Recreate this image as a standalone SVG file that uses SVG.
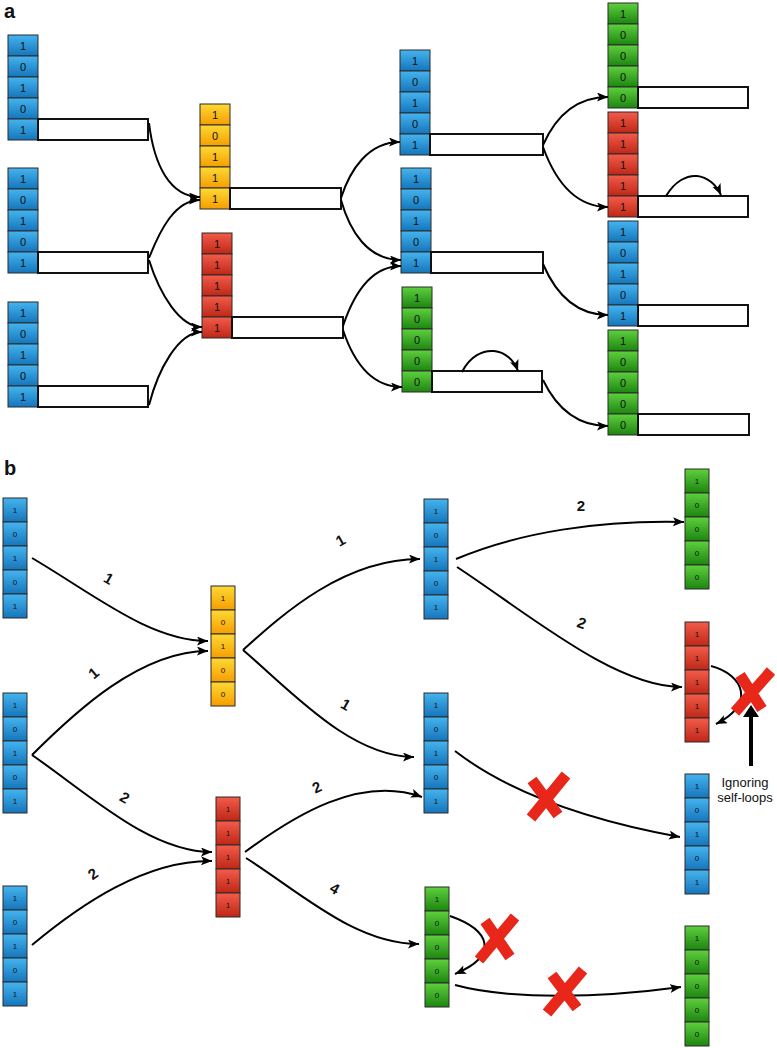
<svg xmlns="http://www.w3.org/2000/svg" xmlns:xlink="http://www.w3.org/1999/xlink" width="777" height="1048" viewBox="0 0 777 1048">
<style>
.c{stroke:#2b2b2b;stroke-width:1}
.ta{font-family:"Liberation Sans",Arial,sans-serif;font-size:11px;text-anchor:middle;fill:#111}
.tb{font-family:"Liberation Sans",Arial,sans-serif;font-size:8px;text-anchor:middle;fill:#111}
.bar{fill:#fff;stroke:#111;stroke-width:2}
.e{fill:none;stroke:#000;stroke-width:2;marker-end:url(#arr)}
.lbl{font-family:"Liberation Sans",Arial,sans-serif;font-size:15px;font-weight:bold;text-anchor:middle;fill:#111}
.x{stroke:#e8261a;stroke-width:11;stroke-linecap:butt;fill:none}
.hd{font-family:"Liberation Sans",Arial,sans-serif;font-size:20px;font-weight:bold;fill:#111}
.note{font-family:"Liberation Sans",Arial,sans-serif;font-size:13px;text-anchor:middle;fill:#111}
</style>
<defs>
<linearGradient id="gB" x1="0" y1="0" x2="0" y2="1"><stop offset="0" stop-color="#45b4ef"/><stop offset="1" stop-color="#1575bb"/></linearGradient>
<linearGradient id="gY" x1="0" y1="0" x2="0" y2="1"><stop offset="0" stop-color="#fcd935"/><stop offset="1" stop-color="#f69e00"/></linearGradient>
<linearGradient id="gR" x1="0" y1="0" x2="0" y2="1"><stop offset="0" stop-color="#f25c4a"/><stop offset="1" stop-color="#bf2616"/></linearGradient>
<linearGradient id="gG" x1="0" y1="0" x2="0" y2="1"><stop offset="0" stop-color="#5fd03e"/><stop offset="1" stop-color="#1c8510"/></linearGradient>
<marker id="arr" markerUnits="userSpaceOnUse" markerWidth="12" markerHeight="10" refX="11" refY="4.5" orient="auto"><path d="M0,0 L11,4.5 L0,9 L2.5,4.5 z" fill="#000"/></marker>
<g id="saB" class="c" fill="url(#gB)"><rect x="0" y="0" width="30" height="21"/><rect x="0" y="21" width="30" height="21"/><rect x="0" y="42" width="30" height="21"/><rect x="0" y="63" width="30" height="21"/><rect x="0" y="84" width="30" height="21"/></g>
<g id="saY" class="c" fill="url(#gY)"><rect x="0" y="0" width="30" height="21"/><rect x="0" y="21" width="30" height="21"/><rect x="0" y="42" width="30" height="21"/><rect x="0" y="63" width="30" height="21"/><rect x="0" y="84" width="30" height="21"/></g>
<g id="saR" class="c" fill="url(#gR)"><rect x="0" y="0" width="30" height="21"/><rect x="0" y="21" width="30" height="21"/><rect x="0" y="42" width="30" height="21"/><rect x="0" y="63" width="30" height="21"/><rect x="0" y="84" width="30" height="21"/></g>
<g id="saG" class="c" fill="url(#gG)"><rect x="0" y="0" width="30" height="21"/><rect x="0" y="21" width="30" height="21"/><rect x="0" y="42" width="30" height="21"/><rect x="0" y="63" width="30" height="21"/><rect x="0" y="84" width="30" height="21"/></g>
<g id="sbB" class="c" fill="url(#gB)"><rect x="0" y="0" width="24" height="24"/><rect x="0" y="24" width="24" height="24"/><rect x="0" y="48" width="24" height="24"/><rect x="0" y="72" width="24" height="24"/><rect x="0" y="96" width="24" height="24"/></g>
<g id="sbY" class="c" fill="url(#gY)"><rect x="0" y="0" width="24" height="24"/><rect x="0" y="24" width="24" height="24"/><rect x="0" y="48" width="24" height="24"/><rect x="0" y="72" width="24" height="24"/><rect x="0" y="96" width="24" height="24"/></g>
<g id="sbR" class="c" fill="url(#gR)"><rect x="0" y="0" width="24" height="24"/><rect x="0" y="24" width="24" height="24"/><rect x="0" y="48" width="24" height="24"/><rect x="0" y="72" width="24" height="24"/><rect x="0" y="96" width="24" height="24"/></g>
<g id="sbG" class="c" fill="url(#gG)"><rect x="0" y="0" width="24" height="24"/><rect x="0" y="24" width="24" height="24"/><rect x="0" y="48" width="24" height="24"/><rect x="0" y="72" width="24" height="24"/><rect x="0" y="96" width="24" height="24"/></g>
</defs>
<rect width="777" height="1048" fill="#fff"/>
<text class="hd" x="4" y="18">a</text>
<text class="hd" x="4" y="475">b</text>

<!-- Part a nodes -->
<g id="a-n1" transform="translate(8,35)"><use xlink:href="#saB"/><text class="ta" x="15" y="14.5">1</text><text class="ta" x="15" y="35.5">0</text><text class="ta" x="15" y="56.5">1</text><text class="ta" x="15" y="77.5">0</text><text class="ta" x="15" y="98.5">1</text><rect class="bar" x="30" y="84" width="110" height="21"/></g>
<g id="a-n2" transform="translate(8,168)"><use xlink:href="#saB"/><text class="ta" x="15" y="14.5">1</text><text class="ta" x="15" y="35.5">0</text><text class="ta" x="15" y="56.5">1</text><text class="ta" x="15" y="77.5">0</text><text class="ta" x="15" y="98.5">1</text><rect class="bar" x="30" y="84" width="110" height="21"/></g>
<g id="a-n3" transform="translate(8,302)"><use xlink:href="#saB"/><text class="ta" x="15" y="14.5">1</text><text class="ta" x="15" y="35.5">0</text><text class="ta" x="15" y="56.5">1</text><text class="ta" x="15" y="77.5">0</text><text class="ta" x="15" y="98.5">1</text><rect class="bar" x="30" y="84" width="110" height="21"/></g>
<g id="a-n4" transform="translate(200,104)"><use xlink:href="#saY"/><text class="ta" x="15" y="14.5">1</text><text class="ta" x="15" y="35.5">0</text><text class="ta" x="15" y="56.5">1</text><text class="ta" x="15" y="77.5">1</text><text class="ta" x="15" y="98.5">1</text><rect class="bar" x="30" y="84" width="111" height="21"/></g>
<g id="a-n5" transform="translate(202,233)"><use xlink:href="#saR"/><text class="ta" x="15" y="14.5">1</text><text class="ta" x="15" y="35.5">1</text><text class="ta" x="15" y="56.5">1</text><text class="ta" x="15" y="77.5">1</text><text class="ta" x="15" y="98.5">1</text><rect class="bar" x="30" y="84" width="111" height="21"/></g>
<g id="a-n6" transform="translate(400,50)"><use xlink:href="#saB"/><text class="ta" x="15" y="14.5">1</text><text class="ta" x="15" y="35.5">0</text><text class="ta" x="15" y="56.5">1</text><text class="ta" x="15" y="77.5">0</text><text class="ta" x="15" y="98.5">1</text><rect class="bar" x="30" y="84" width="113" height="21"/></g>
<g id="a-n7" transform="translate(401,168)"><use xlink:href="#saB"/><text class="ta" x="15" y="14.5">1</text><text class="ta" x="15" y="35.5">0</text><text class="ta" x="15" y="56.5">1</text><text class="ta" x="15" y="77.5">0</text><text class="ta" x="15" y="98.5">1</text><rect class="bar" x="30" y="84" width="112" height="21"/></g>
<g id="a-n8" transform="translate(402,287)"><use xlink:href="#saG"/><text class="ta" x="15" y="14.5">1</text><text class="ta" x="15" y="35.5">0</text><text class="ta" x="15" y="56.5">0</text><text class="ta" x="15" y="77.5">0</text><text class="ta" x="15" y="98.5">0</text><rect class="bar" x="30" y="84" width="110" height="21"/></g>
<g id="a-n9" transform="translate(608,3)"><use xlink:href="#saG"/><text class="ta" x="15" y="14.5">1</text><text class="ta" x="15" y="35.5">0</text><text class="ta" x="15" y="56.5">0</text><text class="ta" x="15" y="77.5">0</text><text class="ta" x="15" y="98.5">0</text><rect class="bar" x="30" y="84" width="110" height="21"/></g>
<g id="a-n10" transform="translate(608,112)"><use xlink:href="#saR"/><text class="ta" x="15" y="14.5">1</text><text class="ta" x="15" y="35.5">1</text><text class="ta" x="15" y="56.5">1</text><text class="ta" x="15" y="77.5">1</text><text class="ta" x="15" y="98.5">1</text><rect class="bar" x="30" y="84" width="110" height="21"/></g>
<g id="a-n11" transform="translate(608,221)"><use xlink:href="#saB"/><text class="ta" x="15" y="14.5">1</text><text class="ta" x="15" y="35.5">0</text><text class="ta" x="15" y="56.5">1</text><text class="ta" x="15" y="77.5">0</text><text class="ta" x="15" y="98.5">1</text><rect class="bar" x="30" y="84" width="110" height="21"/></g>
<g id="a-n12" transform="translate(608,330)"><use xlink:href="#saG"/><text class="ta" x="15" y="14.5">1</text><text class="ta" x="15" y="35.5">0</text><text class="ta" x="15" y="56.5">0</text><text class="ta" x="15" y="77.5">0</text><text class="ta" x="15" y="98.5">0</text><rect class="bar" x="30" y="84" width="111" height="21"/></g>

<!-- Part b nodes -->
<g id="b-n1" transform="translate(3,498)"><use xlink:href="#sbB"/><text class="tb" x="12" y="15">1</text><text class="tb" x="12" y="39">0</text><text class="tb" x="12" y="63">1</text><text class="tb" x="12" y="87">0</text><text class="tb" x="12" y="111">1</text></g>
<g id="b-n2" transform="translate(3,693)"><use xlink:href="#sbB"/><text class="tb" x="12" y="15">1</text><text class="tb" x="12" y="39">0</text><text class="tb" x="12" y="63">1</text><text class="tb" x="12" y="87">0</text><text class="tb" x="12" y="111">1</text></g>
<g id="b-n3" transform="translate(3,886)"><use xlink:href="#sbB"/><text class="tb" x="12" y="15">1</text><text class="tb" x="12" y="39">0</text><text class="tb" x="12" y="63">1</text><text class="tb" x="12" y="87">0</text><text class="tb" x="12" y="111">1</text></g>
<g id="b-n4" transform="translate(211,586)"><use xlink:href="#sbY"/><text class="tb" x="12" y="15">1</text><text class="tb" x="12" y="39">0</text><text class="tb" x="12" y="63">1</text><text class="tb" x="12" y="87">0</text><text class="tb" x="12" y="111">0</text></g>
<g id="b-n5" transform="translate(216,797)"><use xlink:href="#sbR"/><text class="tb" x="12" y="15">1</text><text class="tb" x="12" y="39">1</text><text class="tb" x="12" y="63">1</text><text class="tb" x="12" y="87">1</text><text class="tb" x="12" y="111">1</text></g>
<g id="b-n6" transform="translate(424,499)"><use xlink:href="#sbB"/><text class="tb" x="12" y="15">1</text><text class="tb" x="12" y="39">0</text><text class="tb" x="12" y="63">1</text><text class="tb" x="12" y="87">0</text><text class="tb" x="12" y="111">1</text></g>
<g id="b-n7" transform="translate(424,693)"><use xlink:href="#sbB"/><text class="tb" x="12" y="15">1</text><text class="tb" x="12" y="39">0</text><text class="tb" x="12" y="63">1</text><text class="tb" x="12" y="87">0</text><text class="tb" x="12" y="111">1</text></g>
<g id="b-n8" transform="translate(425,887)"><use xlink:href="#sbG"/><text class="tb" x="12" y="15">1</text><text class="tb" x="12" y="39">0</text><text class="tb" x="12" y="63">0</text><text class="tb" x="12" y="87">0</text><text class="tb" x="12" y="111">0</text></g>
<g id="b-n9" transform="translate(685,469)"><use xlink:href="#sbG"/><text class="tb" x="12" y="15">1</text><text class="tb" x="12" y="39">0</text><text class="tb" x="12" y="63">0</text><text class="tb" x="12" y="87">0</text><text class="tb" x="12" y="111">0</text></g>
<g id="b-n10" transform="translate(685,622)"><use xlink:href="#sbR"/><text class="tb" x="12" y="15">1</text><text class="tb" x="12" y="39">1</text><text class="tb" x="12" y="63">1</text><text class="tb" x="12" y="87">1</text><text class="tb" x="12" y="111">1</text></g>
<g id="b-n11" transform="translate(685,774)"><use xlink:href="#sbB"/><text class="tb" x="12" y="15">1</text><text class="tb" x="12" y="39">0</text><text class="tb" x="12" y="63">1</text><text class="tb" x="12" y="87">0</text><text class="tb" x="12" y="111">1</text></g>
<g id="b-n12" transform="translate(685,926)"><use xlink:href="#sbG"/><text class="tb" x="12" y="15">1</text><text class="tb" x="12" y="39">0</text><text class="tb" x="12" y="63">0</text><text class="tb" x="12" y="87">0</text><text class="tb" x="12" y="111">0</text></g>

<g id="connectors">
<!-- part a -->
<path class="e" d="M149,123 C154,165 170,197 200,197"/>
<path class="e" d="M149,258 C160,230 175,200 200,200"/>
<path class="e" d="M149,260 C160,295 180,327 202,327"/>
<path class="e" d="M149,405 C158,370 178,332 202,332"/>
<path class="e" d="M341,198 C350,170 368,142 400,142"/>
<path class="e" d="M341,200 C350,232 368,260 401,260"/>
<path class="e" d="M343,326 C353,296 370,266 401,266"/>
<path class="e" d="M343,330 C353,360 370,387 402,387"/>
<path class="e" d="M543,145 C555,118 575,97 608,97"/>
<path class="e" d="M543,147 C555,180 575,207 608,207"/>
<path class="e" d="M543,264 C555,292 575,315 608,315"/>
<path class="e" d="M543,380 C555,405 575,426 608,426"/>
<path class="e" d="M462,372 C470,356 483,350 494,351 C505,352 514,360 518,371"/>
<path class="e" d="M666,196 C675,181 687,175 697,176 C707,177 716,184 721,195"/>
<!-- part b -->
<path class="e" d="M32,558 C95,595 150,641 208,641"/>
<path class="e" d="M32,755 C75,712 140,651 208,651"/>
<path class="e" d="M32,755 C90,795 150,852 212,852"/>
<path class="e" d="M32,945 C80,905 145,860 212,861"/>
<path class="e" d="M243,650 C285,612 345,559 420,559"/>
<path class="e" d="M243,650 C290,690 350,757 414,757"/>
<path class="e" d="M245,852 C295,815 360,775 422,797"/>
<path class="e" d="M246,858 C300,892 355,944 419,944"/>
<path class="e" d="M456,559 C520,532 600,520 684,522"/>
<path class="e" d="M457,567 C530,615 615,687 682,687"/>
<path class="e" d="M455,751 C495,782 560,815 680,837"/>
<path class="e" d="M450,916 C490,930 500,955 455,974"/>
<path class="e" d="M711,666 C745,675 755,705 716,724"/>
<path class="e" d="M455,985 C510,1000 600,998 681,987"/>
</g>

<g id="labels">
<text class="lbl" transform="translate(106,583) rotate(30)">1</text>
<text class="lbl" transform="translate(97,677) rotate(-40)">1</text>
<text class="lbl" transform="translate(122,802) rotate(30)">2</text>
<text class="lbl" transform="translate(96,878) rotate(-35)">2</text>
<text class="lbl" transform="translate(343,545) rotate(-30)">1</text>
<text class="lbl" transform="translate(343,709) rotate(30)">1</text>
<text class="lbl" transform="translate(319,792) rotate(-25)">2</text>
<text class="lbl" transform="translate(332,893) rotate(30)">4</text>
<text class="lbl" transform="translate(581,511)">2</text>
<text class="lbl" transform="translate(580,628) rotate(20)">2</text>
</g>

<g id="crosses">
<path class="x" d="M771,671 L735,712 M740,675 L762,709"/>
<path class="x" d="M566,775 L531,818 M532,780 L558,815"/>
<path class="x" d="M515,917 L479,960 M485,921 L510,957"/>
<path class="x" d="M583,970 L547,1013 M552,975 L577,1008"/>
</g>

<g id="note">
<line x1="751" y1="766" x2="751" y2="714" stroke="#000" stroke-width="4"/>
<polygon points="743,717 751,705 759,717" fill="#000"/>
<text class="note" x="745" y="787">Ignoring</text>
<text class="note" x="745" y="802">self-loops</text>
</g>
</svg>
